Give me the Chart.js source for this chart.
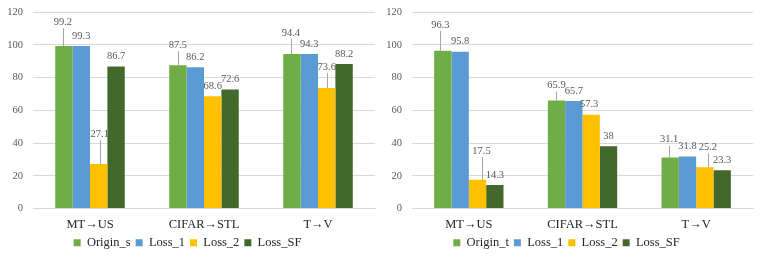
<!DOCTYPE html>
<html>
<head>
<meta charset="utf-8">
<script src="https://cdn.jsdelivr.net/npm/chart.js@4/dist/chart.umd.min.js"></script>
<style>
  html, body { margin: 0; padding: 0; background: #ffffff; }
  #wrap { position: relative; width: 761px; height: 259px; overflow: hidden; }
  .panel { position: absolute; top: 0; height: 259px; }
  #p1 { left: 0; width: 380px; }
  #p2 { left: 380px; width: 381px; }
</style>
</head>
<body>
<div id="wrap">
  <div class="panel" id="p1"><canvas id="c1" width="380" height="259"></canvas></div>
  <div class="panel" id="p2"><canvas id="c2" width="381" height="259"></canvas></div>
</div>
<script>
// ---- data ----
const categories = ['MT→US', 'CIFAR→STL', 'T→V'];
const seriesLeft = ['Origin_s', 'Loss_1', 'Loss_2', 'Loss_SF'];
const seriesRight = ['Origin_t', 'Loss_1', 'Loss_2', 'Loss_SF'];

const originS = [99.2, 87.5, 94.4];
const loss1S  = [99.3, 86.2, 94.3];
const loss2S  = [27.1, 68.6, 73.6];
const lossSFS = [86.7, 72.6, 88.2];

const originT = [96.3, 65.9, 31.1];
const loss1T  = [95.8, 65.7, 31.8];
const loss2T  = [17.5, 57.3, 25.2];
const lossSFT = [14.3, 38, 23.3];

const yMin = 0, yMax = 120, yStep = 20;

// ---- styles ----
const colors = ['#70AD47', '#5B9BD5', '#FFC000', '#43682B'];
const FONT = '"Liberation Serif", "Times New Roman", serif';

// label placement tweaks (pixels), per dataset / per point
const offsetsLeft = [
  [{dx: -1, dy: -14, leader: true}, {dx: 0, dy: -10, leader: true}, {dx: -1, dy: -11, leader: true}],
  [],
  [{dx: 1, dy: -20, leader: true}, null, {dx: 0, dy: -11, leader: true}],
  []
];
const offsetsRight = [
  [{dx: -2.5, dy: -16, leader: true}, {dx: 0, dy: -5, leader: true}, {dx: -1, dy: -8, leader: true}],
  [],
  [{dx: 4, dy: -19, leader: true}, {dx: -2, dy: 0}, {dx: 3, dy: -10, leader: true}],
  []
];

const barLabels = {
  id: 'barLabels',
  afterDatasetsDraw(chart, args, opts) {
    const ctx = chart.ctx;
    ctx.save();
    ctx.font = '10.5px ' + FONT;
    ctx.fillStyle = '#595959';
    ctx.textAlign = 'center';
    ctx.textBaseline = 'middle';
    chart.data.datasets.forEach((ds, di) => {
      const meta = chart.getDatasetMeta(di);
      meta.data.forEach((bar, i) => {
        const off = ((opts.offsets || [])[di] || [])[i] || {dx: 0, dy: 0};
        const x = bar.x + off.dx;
        const y = bar.y - 10 + off.dy;
        if (off.leader) {
          const half = bar.width / 2;
          const bx = Math.min(Math.max(x, bar.x - half + 3), bar.x + half - 3);
          ctx.strokeStyle = '#A6A6A6';
          ctx.lineWidth = 1;
          ctx.beginPath();
          ctx.moveTo(Math.round(x) + 0.5, y + 6);
          ctx.lineTo(Math.round(bx) + 0.5, bar.y);
          ctx.stroke();
        }
        ctx.fillText(String(ds.data[i]), x, y);
      });
    });
    ctx.restore();
  }
};

function makeChart(id, names, values, offsets, axisWidth, rightPad) {
  const datasets = names.map((n, k) => ({
    label: n,
    data: values[k],
    backgroundColor: colors[k],
    borderWidth: 0,
    categoryPercentage: 0.61,
    barPercentage: 1.0
  }));
  return new Chart(document.getElementById(id), {
    type: 'bar',
    data: { labels: categories, datasets },
    plugins: [barLabels],
    options: {
      responsive: false,
      animation: false,
      devicePixelRatio: 1,
      layout: { padding: { left: 0, right: rightPad, top: 12, bottom: 0 } },
      scales: {
        x: {
          grid: { display: false, drawTicks: false },
          border: { color: '#D9D9D9', width: 1 },
          ticks: { color: '#262626', font: { family: FONT, size: 12.5 }, padding: 9 },
          afterFit(scale) { scale.height = 23; }
        },
        y: {
          min: yMin, max: yMax,
          grid: { color: '#D9D9D9', drawTicks: false },
          border: { display: false },
          ticks: { stepSize: yStep, color: '#595959', font: { family: FONT, size: 10.5 }, padding: 10 },
          afterFit(scale) { scale.width = axisWidth; scale.paddingTop = 0; scale.paddingBottom = 0; }
        }
      },
      plugins: {
        legend: {
          position: 'bottom',
          maxHeight: 29,
          labels: {
            color: '#262626',
            font: { family: FONT, size: 12.5 },
            boxWidth: 7, boxHeight: 7, padding: 5
          }
        },
        tooltip: { enabled: false },
        barLabels: { offsets }
      }
    }
  });
}

makeChart('c1', seriesLeft, [originS, loss1S, loss2S, lossSFS], offsetsLeft, 33, 5);
makeChart('c2', seriesRight, [originT, loss1T, loss2T, lossSFT], offsetsRight, 32, 8);
</script>
</body>
</html>
